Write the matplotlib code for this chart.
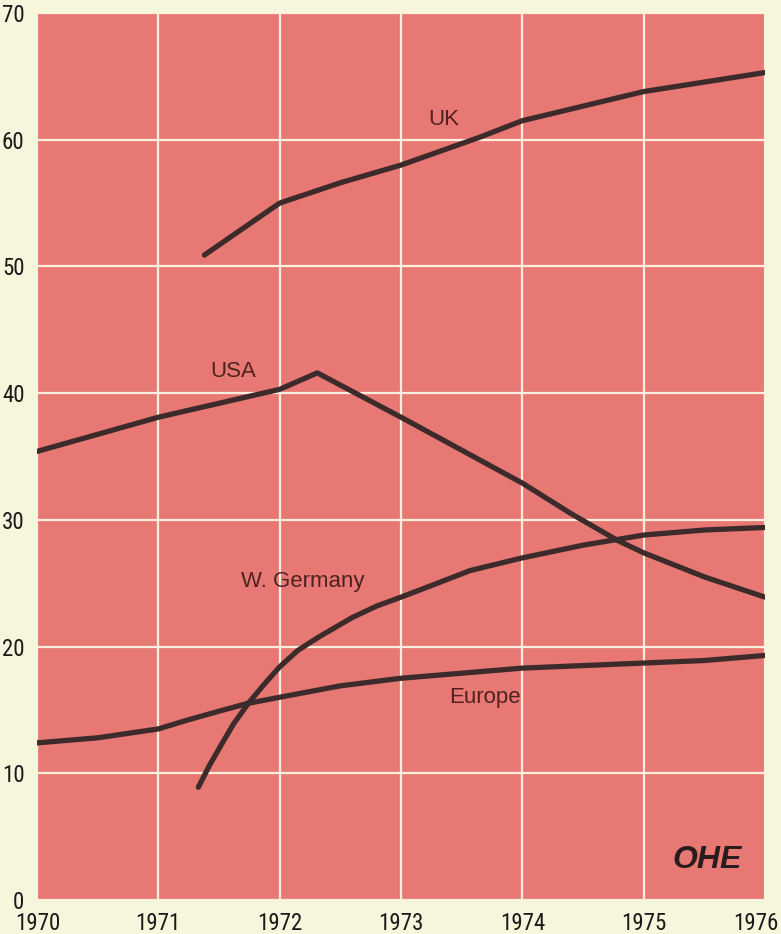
import matplotlib
matplotlib.use("Agg")
import matplotlib.pyplot as plt
from matplotlib import font_manager
from matplotlib.transforms import ScaledTranslation

# Series (year, value)
uk_years = [1971.38, 1972.0, 1972.5, 1973.0, 1973.65, 1974.0, 1975.0, 1976.0]
uk_values = [50.9, 55.0, 56.6, 58.0, 60.2, 61.5, 63.8, 65.3]

usa_years = [1970.0, 1971.0, 1972.0, 1972.31, 1973.0, 1974.0, 1974.4, 1974.78, 1975.0, 1975.5, 1976.0]
usa_values = [35.4, 38.1, 40.3, 41.6, 38.1, 32.9, 30.5, 28.4, 27.4, 25.5, 23.9]

wg_years = [1971.33, 1971.42, 1971.51, 1971.62, 1971.74, 1971.87, 1972.0, 1972.15, 1972.33,
            1972.6, 1972.8, 1973.0, 1973.3, 1973.57, 1974.0, 1974.5, 1975.0, 1975.5, 1976.0]
wg_values = [8.9, 10.6, 12.1, 13.9, 15.5, 17.0, 18.4, 19.7, 20.8,
             22.3, 23.2, 23.9, 25.0, 26.0, 27.0, 28.0, 28.8, 29.2, 29.4]

eu_years = [1970.0, 1970.5, 1971.0, 1971.24, 1971.5, 1971.73, 1972.0, 1972.5, 1973.0,
            1974.0, 1975.0, 1975.5, 1976.0]
eu_values = [12.4, 12.8, 13.5, 14.2, 14.9, 15.5, 16.0, 16.9, 17.5,
             18.3, 18.7, 18.9, 19.3]

x_ticks = [1970, 1971, 1972, 1973, 1974, 1975, 1976]
y_ticks = [0, 10, 20, 30, 40, 50, 60, 70]

series_labels = ["UK", "USA", "W. Germany", "Europe"]
label_pos = [(1973.35, 61.6), (1971.62, 41.7), (1972.19, 25.1), (1973.69, 16.0)]

installed = {f.name for f in font_manager.fontManager.ttflist}
narrow_options = ["Liberation Sans Narrow", "Roboto Condensed", "Open Sans Condensed", "DejaVu Sans"]
tick_family = next(f for f in narrow_options if f in installed or f == "DejaVu Sans")

paper = "#f7f5dc"
field = "#e87873"
ink = "#3d2b2b"
text_ink = "#4e2222"

fig = plt.figure(figsize=(7.81, 9.34), dpi=100, facecolor=paper)
ax = fig.add_axes([37 / 781, 1 - 900 / 934, (765 - 37) / 781, (900 - 13) / 934])
ax.set_facecolor(field)
ax.set_xlim(1970, 1976)
ax.set_ylim(0, 70)

for s in ax.spines.values():
    s.set_visible(False)

tick_font = dict(family=tick_family, fontsize=16.5, color="#1a1a1a", fontstretch="condensed")
ax.set_xticks(x_ticks)
ax.set_yticks(y_ticks)
ax.set_xticklabels([str(t) for t in x_ticks], **tick_font)
ax.set_yticklabels([str(t) for t in y_ticks], **tick_font)
ax.tick_params(axis="both", length=0)
ax.tick_params(axis="x", pad=9)
ax.tick_params(axis="y", pad=9)

# keep the end year labels on the page
px = 1 / 100
xlabels = ax.get_xticklabels()
xlabels[0].set_horizontalalignment("left")
xlabels[0].set_transform(xlabels[0].get_transform() + ScaledTranslation(-22 * px, 0, fig.dpi_scale_trans))
xlabels[-1].set_horizontalalignment("right")
xlabels[-1].set_transform(xlabels[-1].get_transform() + ScaledTranslation(14 * px, 0, fig.dpi_scale_trans))

ax.grid(True, color="#fbefe0", linewidth=1.6)
ax.set_axisbelow(True)

for xs, ys in [(uk_years, uk_values), (usa_years, usa_values),
               (wg_years, wg_values), (eu_years, eu_values)]:
    ax.plot(xs, ys, color=ink, linewidth=3.8, solid_capstyle="round",
            solid_joinstyle="round", zorder=3)

for lab, (lx, ly) in zip(series_labels, label_pos):
    ax.text(lx, ly, lab, ha="center", va="center", fontsize=16,
            family="Liberation Sans", color=text_ink, zorder=4)

ax.text(0.92, 0.028, "OHE", transform=ax.transAxes, ha="center", va="bottom",
        fontsize=23, fontweight="bold", fontstyle="italic", family="Liberation Sans",
        color="#2a1c1c", zorder=4)

fig.savefig("out.png", dpi=100, facecolor=paper)
